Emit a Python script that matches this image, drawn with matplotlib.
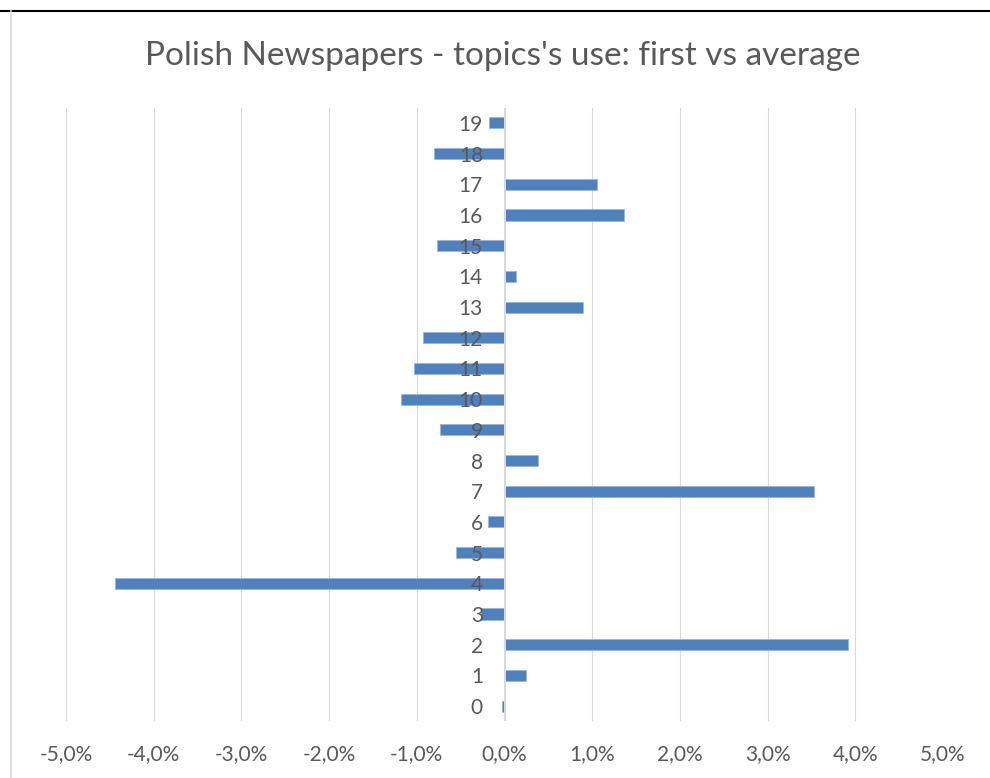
import matplotlib
matplotlib.use("Agg")
import matplotlib.pyplot as plt
from matplotlib.ticker import FuncFormatter, MultipleLocator
from matplotlib.lines import Line2D

# Difference in topic share: first page vs average (percentage points)
topics = list(range(20))
diff_pct = [-0.03, 0.245, 3.92, -0.27, -4.44, -0.55, -0.185, 3.53, 0.38, -0.74,
            -1.18, -1.03, -0.93, 0.90, 0.135, -0.77, 1.36, 1.055, -0.80, -0.18]
title = "Polish Newspapers - topics's use: first vs average"

W, H = 990, 778
DPI = 100
text_gray = "#595959"
grid_gray = "#D9D9D9"
bar_blue = "#4F81BD"

plt.rcParams["font.family"] = ["Lato", "DejaVu Sans"]

fig = plt.figure(figsize=(W / DPI, H / DPI), dpi=DPI, facecolor="white")
ax = fig.add_axes([66 / W, 1 - 721.4 / H, (943 - 66) / W, (721.4 - 107.6) / H])

ax.barh(topics, diff_pct, height=0.36, color=bar_blue,
        edgecolor="#9DB5DA", linewidth=0.6, zorder=2)

ax.set_xlim(-5, 5)
ax.set_ylim(-0.5, 19.5)
ax.xaxis.set_major_locator(MultipleLocator(1))
ax.xaxis.set_major_formatter(
    FuncFormatter(lambda v, _: f"{v:.1f}".replace(".", ",").replace("-0,0", "0,0") + "%"))
ax.set_yticks(topics)
ax.set_yticklabels([str(t) for t in topics])

ax.grid(axis="x", color=grid_gray, linewidth=0.8, zorder=0)
ax.set_axisbelow(True)
ax.axvline(0, color=grid_gray, linewidth=1.4, zorder=3)

# category labels sit beside the zero line, drawn on top of the bars
ax.spines["left"].set_position(("data", 0))
for s in ax.spines.values():
    s.set_visible(False)
ax.yaxis.set_zorder(4)
ax.tick_params(axis="both", length=0, labelcolor=text_gray, labelsize=15)
ax.tick_params(axis="y", pad=15.5)
ax.tick_params(axis="x", pad=16)

fig.text(503 / W, 1 - 56 / H, title, ha="center", va="center",
         fontsize=24, color=text_gray)

# chart frame: dark top rule and light left border
fig.add_artist(Line2D([0, 1], [1 - 10.5 / H, 1 - 10.5 / H], transform=fig.transFigure,
                      color="black", linewidth=1.5))
fig.add_artist(Line2D([11 / W, 11 / W], [0, 1 - 11 / H], transform=fig.transFigure,
                      color=grid_gray, linewidth=1.2))

fig.savefig("out.png", dpi=DPI, facecolor="white")
